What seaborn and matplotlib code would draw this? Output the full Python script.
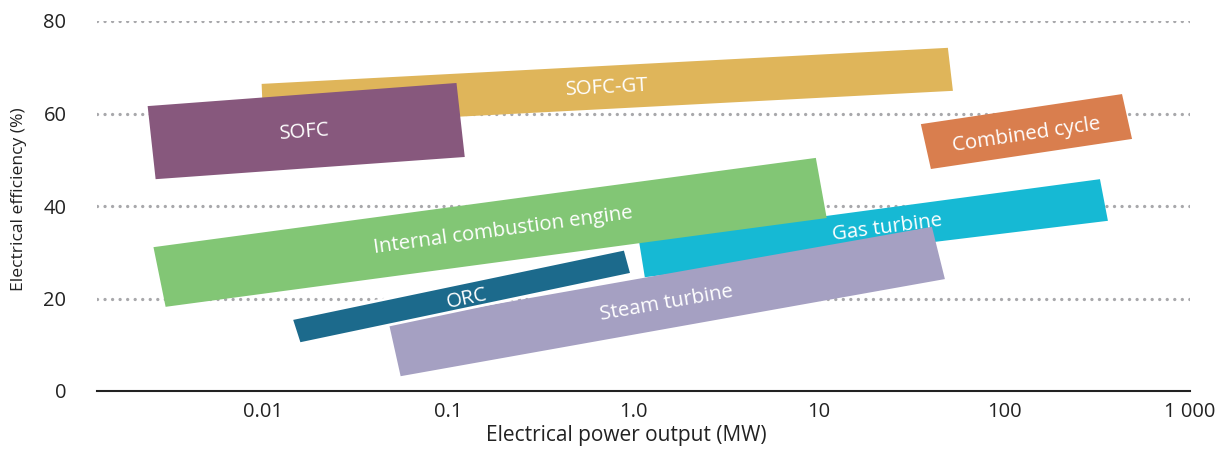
import numpy as np
import pandas as pd
import seaborn as sns
import matplotlib
matplotlib.use("Agg")
import matplotlib.pyplot as plt

# ---- data: corner points (power in MW, efficiency in %) of each technology band
technologies = ["SOFC-GT", "SOFC", "Combined cycle", "Gas turbine",
                "Internal combustion engine", "Steam turbine", "ORC"]
power_corners = {
    "SOFC-GT": [0.00988, 49.5, 52.7, 0.0101],
    "SOFC": [0.0024, 0.111, 0.123, 0.00265],
    "Combined cycle": [35.4, 430, 487, 40.1],
    "Gas turbine": [1.07, 327, 361, 1.15],
    "Internal combustion engine": [0.00258, 9.61, 11.0, 0.0030],
    "Steam turbine": [0.0479, 40.6, 47.7, 0.0555],
    "ORC": [0.0143, 0.898, 0.977, 0.0158],
}
efficiency_corners = {
    "SOFC-GT": [66.4, 74.2, 64.9, 57.1],
    "SOFC": [61.6, 66.6, 50.6, 45.8],
    "Combined cycle": [57.7, 64.2, 54.5, 48.0],
    "Gas turbine": [32.4, 45.8, 36.8, 24.6],
    "Internal combustion engine": [31.1, 50.4, 37.4, 18.2],
    "Steam turbine": [14.7, 35.5, 24.2, 3.2],
    "ORC": [15.6, 30.7, 25.3, 10.2],
}
label_power = [0.716, 0.0168, 132, 23.2, 0.197, 1.51, 0.126]
label_efficiency = [65.5, 56.0, 55.4, 35.2, 34.6, 19.0, 20.0]
label_angle = [3.0, 4.3, 8.5, 7.5, 7.7, 10.0, 12.0]

colors = {
    "SOFC-GT": "#DFB55A",
    "SOFC": "#87587D",
    "Combined cycle": "#D97E4E",
    "Gas turbine": "#16B9D4",
    "Internal combustion engine": "#82C675",
    "Steam turbine": "#A5A0C2",
    "ORC": "#1C6A8C",
}

x_ticks = [0.01, 0.1, 1.0, 10, 100, 1000]
x_tick_labels = ["0.01", "0.1", "1.0", "10", "100", "1 000"]
y_ticks = [0, 20, 40, 60, 80]

sns.set_theme(style="white")
plt.rcParams["font.family"] = ["Open Sans", "DejaVu Sans"]

fig = plt.figure(figsize=(12.17, 4.51), dpi=100)
ax = fig.add_axes([97 / 1217, 1 - 391 / 451, (1190 - 97) / 1217, (391 - 21) / 451])
ax.set_xscale("log")
ax.set_xlim(0.00128, 1000)
ax.set_ylim(0, 80)

# dotted gridlines
for yv in y_ticks[1:]:
    ax.axhline(yv, color="#A8A8AB", lw=2.4, ls=(0, (0.01, 2.25)),
               dash_capstyle="round", zorder=0)

for i, tech in enumerate(technologies):
    edge = "white" if tech == "ORC" else "none"
    lw = 2.0 if tech == "ORC" else 0
    ax.fill(power_corners[tech], efficiency_corners[tech], color=colors[tech],
            ec=edge, lw=lw, zorder=2 + i)
    ax.text(label_power[i], label_efficiency[i], tech, color="white",
            fontsize=14.7, ha="center", va="center", rotation=label_angle[i],
            rotation_mode="anchor", zorder=20)

for s in ["left", "right", "top"]:
    ax.spines[s].set_visible(False)
ax.spines["bottom"].set_color("#222222")
ax.spines["bottom"].set_linewidth(1.5)

ax.set_xticks(x_ticks)
ax.set_xticklabels(x_tick_labels)
ax.xaxis.set_minor_locator(matplotlib.ticker.NullLocator())
ax.set_yticks(y_ticks)
ax.set_yticklabels([str(v) for v in y_ticks])
ax.tick_params(axis="x", length=0, pad=8, labelsize=14.5, labelcolor="#222222")
ax.tick_params(axis="y", length=0, pad=22, labelsize=14.5, labelcolor="#222222")
ax.grid(False)

ax.set_xlabel("Electrical power output (MW)", fontsize=15, color="#222222")
ax.xaxis.set_label_coords((626 - 97) / 1093, -(436 - 391) / 370, transform=ax.transAxes)
ax.xaxis.label.set_va("center")
ax.set_ylabel("Electrical efficiency (%)", fontsize=12.6, color="#222222")
ax.yaxis.set_label_coords(-(97 - 19) / 1093, (391 - 199) / 370, transform=ax.transAxes)
ax.yaxis.label.set_va("center")

fig.savefig("out.png", dpi=100)
